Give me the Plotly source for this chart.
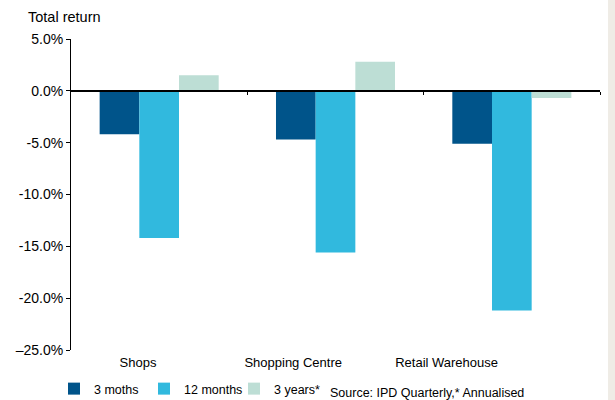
import plotly.graph_objects as go

# Retail property total returns by sub-sector (%)
categories = ["Shops", "Shopping Centre", "Retail Warehouse"]
series_names = ["3 moths", "12 months", "3 years*"]
three_months = [-4.2, -4.7, -5.1]
twelve_months = [-14.2, -15.6, -21.2]
three_years = [1.5, 2.8, -0.7]

y_tick_vals = [5, 0, -5, -10, -15, -20, -25]
y_tick_text = ["5.0%", "0.0%", "-5.0%", "-10.0%", "-15.0%", "-20.0%", "–25.0%"]

colors = ["#00548A", "#31B9DE", "#BDDED5"]

positions = list(range(len(categories)))
# category labels sit slightly left of their bar groups
label_shift = [-0.12, -0.24, -0.37]
label_positions = [p + s for p, s in zip(positions, label_shift)]

fig = go.Figure()
for name, vals, col in zip(series_names, [three_months, twelve_months, three_years], colors):
    fig.add_trace(go.Bar(
        x=positions, y=vals, name=name,
        marker=dict(color=col, line=dict(width=0)),
    ))

# invisible helper trace that carries the category-label axis
fig.add_trace(go.Scatter(x=label_positions, y=[0, 0, 0], xaxis="x2",
                         mode="markers", marker=dict(opacity=0),
                         showlegend=False, hoverinfo="skip"))

family = "Liberation Sans, Arial, sans-serif"
font = dict(family=family, size=13, color="#000000")
legend_font = dict(family=family, size=12.5, color="#000000")
tick_font = dict(family=family, size=14, color="#000000")
title_font = dict(family=family, size=14.5, color="#000000")

fig.update_layout(
    width=615, height=400,
    margin=dict(l=71, r=15, t=39, b=50, autoexpand=False),
    paper_bgcolor="white", plot_bgcolor="white",
    font=font,
    barmode="group", bargap=0.325, bargroupgap=0,
    showlegend=True,
    legend=dict(orientation="h", x=54 / 615, xref="container", xanchor="left",
                y=11 / 400, yref="container", yanchor="middle",
                entrywidth=45, entrywidthmode="pixels",
                font=legend_font, bgcolor="rgba(0,0,0,0)", traceorder="normal"),
    xaxis=dict(
        range=[-0.5, 2.5], anchor="free", position=25 / 30,
        tickvals=[0.5, 1.5, 2.5], ticktext=["", "", ""],
        ticks="outside", ticklen=3, tickcolor="#000", tickwidth=1,
        showline=True, linecolor="#000", linewidth=1.5,
        showgrid=False, zeroline=False, fixedrange=True, automargin=False,
    ),
    xaxis2=dict(
        range=[-0.5, 2.5], overlaying="x", anchor="y", side="bottom",
        tickvals=label_positions, ticktext=categories,
        ticks="", showline=False, showgrid=False, zeroline=False,
        tickfont=font, ticklabelstandoff=3, automargin=False,
    ),
    yaxis=dict(
        range=[-25, 5], tickvals=y_tick_vals, ticktext=y_tick_text,
        ticks="outside", ticklen=4, tickcolor="#000", tickwidth=1,
        showline=True, linecolor="#000", linewidth=1,
        showgrid=False, zeroline=False, tickfont=tick_font, automargin=False,
    ),
    annotations=[
        dict(text="Total return", xref="paper", yref="paper",
             x=(26 - 71) / 529, y=(350 - 17) / 311, xanchor="left", yanchor="middle",
             showarrow=False, font=title_font),
        dict(text="Source: IPD Quarterly,* Annualised", xref="paper", yref="paper",
             x=(328 - 71) / 529, y=(350 - 393) / 311, xanchor="left", yanchor="middle",
             showarrow=False, font=dict(family=family, size=12.5, color="#000")),
    ],
    shapes=[
        dict(type="rect", xref="paper", yref="paper",
             x0=(608 - 71) / 529, x1=(616 - 71) / 529, y0=-0.2, y1=1.2,
             fillcolor="#EFECE6", line=dict(width=0), layer="below"),
    ],
)

fig.write_html("out.html")
